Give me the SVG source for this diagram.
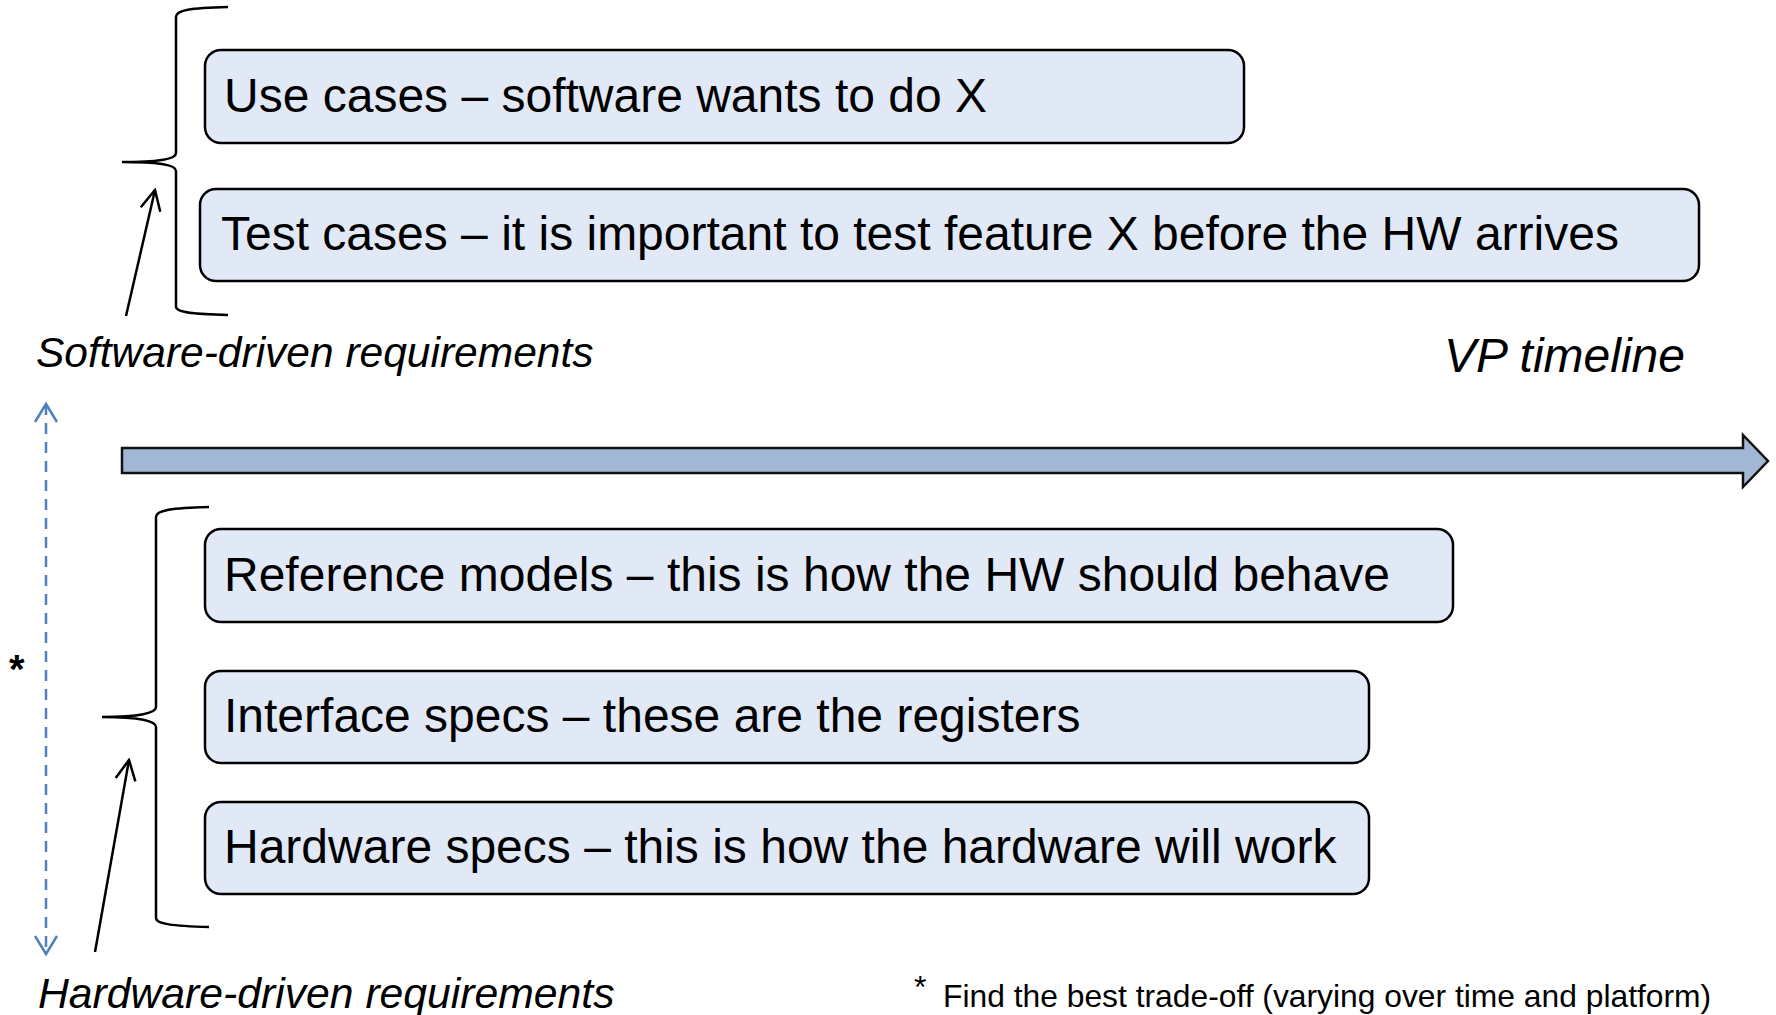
<svg xmlns="http://www.w3.org/2000/svg" width="1776" height="1015" viewBox="0 0 1776 1015">
  <style>
    .box { fill: #E2E9F6; stroke: #000; stroke-width: 2.5; }
    .label { font-family: "Liberation Sans", Arial, sans-serif; font-size: 48px; fill: #000; }
    .note { font-family: "Liberation Sans", Arial, sans-serif; font-style: italic; fill: #000; }
    .plain { font-family: "Liberation Sans", Arial, sans-serif; fill: #000; }
    .brace { fill: none; stroke: #000; stroke-width: 2.5; }
    .pointer { fill: none; stroke: #000; stroke-width: 2.5; }
    .span { fill: none; stroke: #4F81BD; stroke-width: 2.5; stroke-dasharray: 11 8; }
  </style>
  <defs>
    <marker id="openHead" viewBox="0 0 24 24" refX="22" refY="12" markerWidth="24" markerHeight="24" markerUnits="userSpaceOnUse" orient="auto">
      <path d="M2,2 L22,12 L2,22" fill="none" stroke="#000" stroke-width="2.5"/>
    </marker>
    <marker id="blueHead" viewBox="0 0 24 26" refX="21" refY="13" markerWidth="24" markerHeight="26" markerUnits="userSpaceOnUse" orient="auto-start-reverse">
      <path d="M3,2 L21,13 L3,24" fill="none" stroke="#4F81BD" stroke-width="2.5"/>
    </marker>
  </defs>

  <rect width="1776" height="1015" fill="#fff"/>

  <!-- Timeline arrow -->
  <g id="timeline">
    <polygon points="122,448 1743,448 1743,435 1768,461 1743,487 1743,473 122,473" fill="#A2B7D4" stroke="#111" stroke-width="2.5" stroke-linejoin="miter"/>
    <text class="note" x="1444" y="372" font-size="48">VP timeline</text>
  </g>

  <!-- Software-driven group -->
  <g id="use-cases">
    <rect class="box" x="205" y="50" width="1039" height="93" rx="16"/>
    <text class="label" x="224" y="112">Use cases – software wants to do X</text>
  </g>
  <g id="test-cases">
    <rect class="box" x="200" y="189" width="1499" height="92" rx="16"/>
    <text class="label" x="221" y="250">Test cases – it is important to test feature X before the HW arrives</text>
  </g>

  <!-- Hardware-driven group -->
  <g id="reference-models">
    <rect class="box" x="205" y="529" width="1248" height="93" rx="16"/>
    <text class="label" x="224" y="591">Reference models – this is how the HW should behave</text>
  </g>
  <g id="interface-specs">
    <rect class="box" x="205" y="671" width="1164" height="92" rx="16"/>
    <text class="label" x="224" y="732">Interface specs – these are the registers</text>
  </g>
  <g id="hardware-specs">
    <rect class="box" x="205" y="802" width="1164" height="92" rx="16"/>
    <text class="label" x="224" y="863">Hardware specs – this is how the hardware will work</text>
  </g>

  <!-- Braces, pointers and the trade-off span -->
  <g id="connectors">
    <path class="brace" d="M228,7 C190,8 176,10 176,17 V153 C176,159 160,162 122,162 C160,162 176,165 176,171 V307 C176,312 190,314 228,315"/>
    <path class="brace" d="M209,507 C172,508 156,510 156,517 V707 C156,713 140,717 102,717 C140,717 156,721 156,727 V918 C156,924 172,926 209,927"/>
    <line class="pointer" x1="126" y1="316" x2="155" y2="190" marker-end="url(#openHead)"/>
    <line class="pointer" x1="95" y1="952" x2="129" y2="760" marker-end="url(#openHead)"/>
    <line class="span" x1="46" y1="404" x2="46" y2="954" marker-start="url(#blueHead)" marker-end="url(#blueHead)"/>
  </g>

  <!-- Group captions -->
  <g id="software-driven">
    <text class="note" x="36" y="367" font-size="42.5">Software-driven requirements</text>
  </g>
  <g id="hardware-driven">
    <text class="note" x="38" y="1008" font-size="42.7">Hardware-driven requirements</text>
  </g>

  <!-- Trade-off marker and footnote -->
  <g id="tradeoff">
    <text class="plain" x="9" y="683" font-size="40" font-weight="bold">*</text>
  </g>
  <g id="footnote">
    <text class="plain" x="914" y="998" font-size="32">*</text>
    <text class="plain" x="943" y="1007" font-size="31.8">Find the best trade-off (varying over time and platform)</text>
  </g>
</svg>
